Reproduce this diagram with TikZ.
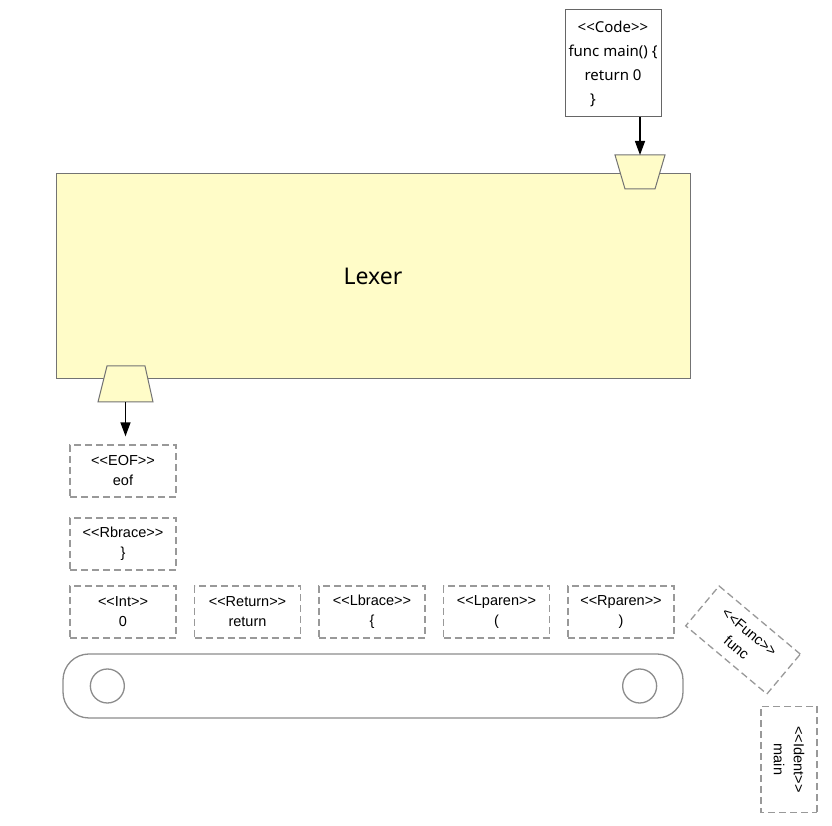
\documentclass[tikz,border=0pt]{standalone}
\usepackage{fontspec}
\setmainfont{Liberation Sans}
\newfontfamily\codefont{Noto Sans}
\usetikzlibrary{arrows.meta}
\definecolor{lexfill}{RGB}{255,252,200}
\begin{document}
\begin{tikzpicture}
        [
          x=1pt,y=1pt,
          token/.style={draw=black!40,dash pattern=on 7pt off 4pt,line width=1.3pt,
            minimum width=106pt,minimum height=52pt,inner sep=0pt,align=center,
            font=\fontsize{14.5}{20}\selectfont},
          port/.style={draw=black!55,line width=1pt,fill=lexfill},
          feed/.style={-{Triangle[length=14pt,width=10pt]},line width=1.4pt},
          roller/.style={circle,draw=black!45,line width=1.3pt,minimum size=34pt,inner sep=0pt}
        ]
        \useasboundingbox[fill=white] (0,0) rectangle (832,826);
        % lexer
        \node [draw=black!55,fill=lexfill,line width=1pt,minimum width=634pt,minimum height=205pt,
          font=\codefont\fontsize{23}{28}\selectfont] (lexer) at (373,549.5) {Lexer};
        \draw [port] (615,671) -- (665,671) -- (655,637) -- (625,637) -- cycle;
        \draw [port] (107,460) -- (145,460) -- (153,424) -- (98,424) -- cycle;
        \coordinate (lexin) at (640,671);
        \coordinate (lexout) at (125.5,424);
        % source code
        \node [draw=black!60,fill=white,line width=1pt,minimum width=96pt,minimum height=107pt,
          inner sep=0pt,align=center,font=\codefont\fontsize{15}{24}\selectfont]
          (code) at (613,762.5) {<{}<Code>{}>\\func main() \{\\return 0\\\}\rule{40pt}{0pt}};
        \draw [feed] (code.south -| lexin) -- (lexin);
        % tokens
        \node [token] (eof) at (123,355) {<{}<EOF>{}>\\eof};
        \node [token] (rbrace) at (123,282) {<{}<Rbrace>{}>\\\}};
        \foreach \name/\kind/\val [count=\i from 0] in
          {int/Int/0,ret/Return/return,lbrace/Lbrace/\{,lparen/Lparen/(,rparen/Rparen/)} {
            \node [token] (\name) at (123+124.5*\i,214) {<{}<\kind>{}>\\\val};
        }
        \node [token,rotate=-40] (func) at (743,186) {<{}<Func>{}>\\func};
        \node [token,rotate=-90,minimum height=56pt] (ident) at (789,66.5) {<{}<Ident>{}>\\main};
        \draw [feed,shorten >=8pt] (lexout) -- (lexout |- eof.north);
        % conveyor
        \node [draw=black!45,line width=1.3pt,rounded corners=26pt,minimum width=620pt,
          minimum height=64pt] (belt) at (373,140) {};
        \node [roller] (rollerl) at ([xshift=45pt]belt.west) {};
        \node [roller] (rollerr) at ([xshift=-44pt]belt.east) {};
      \end{tikzpicture}
\end{document}
